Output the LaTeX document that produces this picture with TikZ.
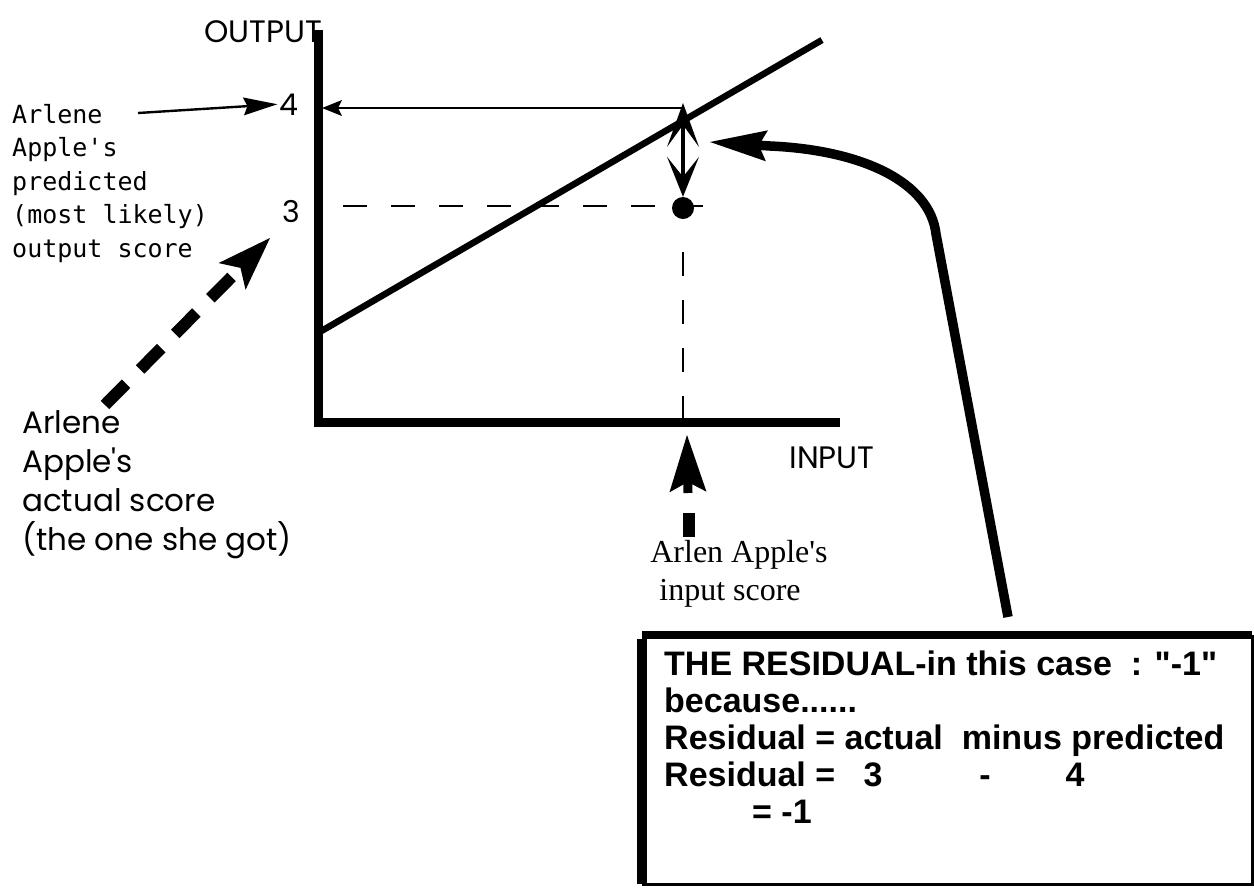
\documentclass[tikz,border=0pt]{standalone}
\usepackage{fontspec}
\usetikzlibrary{arrows.meta}
\newfontfamily\geofont{Poppins}
\newfontfamily\typefont{DejaVu Sans Mono}
\newfontfamily\boxfont{Liberation Sans}
\newfontfamily\bookfont{Liberation Serif}
\begin{document}
\begin{tikzpicture}[x=1pt,y=-1pt,
  geo/.style={font=\geofont\fontsize{31}{39}\selectfont, inner sep=0pt},
  typed/.style={font=\typefont\fontsize{25}{33}\selectfont, inner sep=0pt, anchor=base west},
  serif/.style={font=\bookfont\fontsize{32}{38}\selectfont, inner sep=0pt, anchor=base},
  boxtext/.style={font=\boxfont\bfseries\fontsize{34}{39}\selectfont, inner sep=0pt, anchor=base west},
  axisline/.style={line width=9pt, line join=miter},
  fitline/.style={line width=6.5pt},
  thinarrow/.style={line width=2.4pt},
  guide/.style={line width=2.6pt, dash pattern=on 24pt off 24pt},
]
\useasboundingbox (0,0) rectangle (1254,887);

% axes and fitted line
\coordinate (ytop) at (318,30);
\coordinate (origin) at (318,422);
\coordinate (xend) at (840,422);
\draw[axisline] (ytop) -- (origin) -- (xend);
\coordinate (fitstart) at (318,333);
\coordinate (fitend) at (822,40);
\draw[fitline] (fitstart) -- (fitend);

% axis titles and tick values
\node[geo, anchor=base] (outlab) at (263,42) {OUTPUT};
\node[geo, anchor=base] (inlab) at (832,468) {INPUT};
\node[geo, anchor=base, font=\geofont\fontsize{30}{30}\selectfont, inner sep=2pt] (four) at (289,115) {4};
\node[geo, anchor=base, font=\geofont\fontsize{30}{30}\selectfont, inner sep=2pt] (three) at (291,222) {3};

% predicted point on the line and the actual point
\coordinate (onfit) at (683,103);
\coordinate (levelfour) at (683,108);
\coordinate (yfour) at (322,108);
\node[circle, fill, minimum size=22pt, inner sep=0pt] (actual) at (683,208) {};
\coordinate (ythree) at (343,206);
\coordinate (guideend) at (703,206);
\coordinate (vguide) at (683,252);
\coordinate (xmark) at (683,420);

\draw[thinarrow, -{Stealth[length=20pt, width=16pt, inset=4pt, line width=0pt]}] (levelfour) -- (yfour);
\draw[guide] (ythree) -- (guideend);
\draw[guide] (vguide) -- (xmark);
\draw[line width=3.2pt, {Stealth[length=44pt, width=32pt, inset=22pt, line width=0pt]}-{Stealth[length=40pt, width=32pt, inset=20pt, line width=0pt]}] (onfit) -- (actual.north);

% left label: predicted score
\foreach \t [count=\i] in {Arlene, Apple's, predicted, (most likely), output score}
  \node[typed] (pred\i) at (12, 123+33.5*\i-33.5) {\t};
\coordinate (predtail) at (138,113);
\draw[thinarrow, -{Stealth[length=34pt, width=18pt, inset=4pt, line width=0pt]}] (predtail) -- (four.west);

% left label: actual score
\foreach \t [count=\i] in {Arlene, Apple's, actual score, (the one she got)}
  \node[geo, anchor=base west] (act\i) at (22, 433+39*\i-39) {\t};
\coordinate (acttail) at (105,405);
\coordinate (actpoint) at (270,238);
\draw[line width=12pt, dash pattern=on 30pt off 20pt,
      -{Stealth[length=54pt, width=38pt, inset=12pt, line width=0pt]}] (acttail) -- (actpoint);

% input score marker
\node[serif] (inname1) at (739,562) {Arlen Apple's};
\node[serif] (inname2) at (730,600) {input score};
\coordinate (inbase) at (688,493);
\coordinate (intip) at (687,435);
\draw[line width=9pt, -{Stealth[length=57pt, width=37pt, inset=10pt, line width=0pt]}] (inbase) -- (intip);
\fill (683,513) rectangle (695,537);

% residual box
\node[minimum width=610pt, minimum height=249pt, inner sep=0pt, anchor=north west] (resbox) at (642,635) {};
\draw[line width=2.5pt] (resbox.north east) -- (resbox.south east) -- (resbox.south west);
\draw[line width=8pt] (resbox.north west) -- (resbox.north east);
\draw[line width=10pt] (resbox.south west) -- ([yshift=-4pt]resbox.north west);

\node[boxtext] (r1) at (664,675) {THE RESIDUAL-in this case\ \ : "-1"};
\node[boxtext] (r2) at (664,712) {because......};
\node[boxtext] (r3) at (664,749) {Residual = actual\ \ minus predicted};
\node[boxtext] (r4) at (664,786) {Residual =};
\node[boxtext, anchor=base] (r4a) at (873,786) {3};
\node[boxtext, anchor=base] (r4b) at (985,786) {-};
\node[boxtext, anchor=base] (r4c) at (1075,786) {4};
\node[boxtext] (r5) at (752,823) {= -1};

% curved pointer from the box to the residual
\coordinate (boxfoot) at (1008,617);
\coordinate (residual) at (710,142);
\draw[line width=9.5pt, -{Stealth[length=57pt, width=31pt, inset=8pt, line width=0pt]}]
  (boxfoot) -- (936,234) .. controls (930,182) and (862,150) .. (770,146) -- (residual);
\end{tikzpicture}
\end{document}
